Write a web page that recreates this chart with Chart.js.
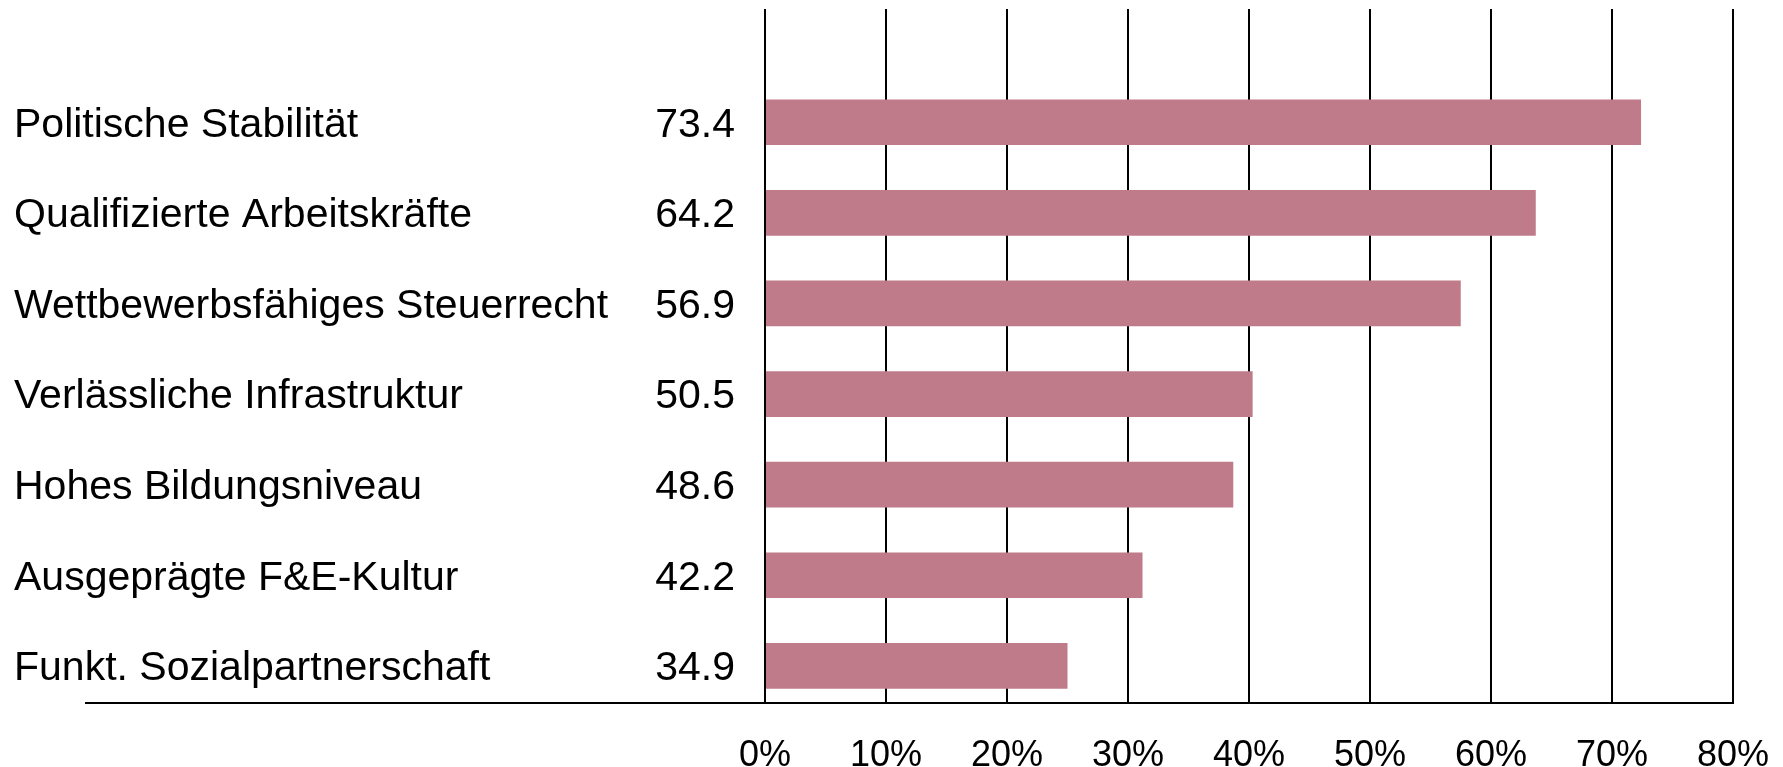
<!DOCTYPE html>
<html>
<head>
<meta charset="utf-8">
<script src="https://cdn.jsdelivr.net/npm/chart.js@4.4.0/dist/chart.umd.min.js"></script>
<style>
  html, body { margin: 0; background: #fff; overflow: hidden; }
  #wrap { width: 1783px; height: 767px; }
</style>
</head>
<body>
<div id="wrap"><canvas id="myChart"></canvas></div>
<script>
const categories = [
  'Politische Stabilität',
  'Qualifizierte Arbeitskräfte',
  'Wettbewerbsfähiges Steuerrecht',
  'Verlässliche Infrastruktur',
  'Hohes Bildungsniveau',
  'Ausgeprägte F&E-Kultur',
  'Funkt. Sozialpartnerschaft'
];
const valueLabels = ['73.4', '64.2', '56.9', '50.5', '48.6', '42.2', '34.9'];
const barValues = [72.4, 63.7, 57.5, 40.3, 38.7, 31.2, 25.0];
const xTicks = [0, 10, 20, 30, 40, 50, 60, 70, 80];

const labelFont = { family: 'Liberation Sans, Arial, sans-serif', size: 41 };
const tickFont = { family: 'Liberation Sans, Arial, sans-serif', size: 36 };

// one tick per row so the label columns line up with the bars
function rowTicks(scale) {
  scale.ticks = categories.map((c, i) => ({ value: i }));
}

// fixed axis sizes, and no extra room for overhanging labels
function fitY(width) {
  return s => {
    s.width = width;
    s.paddingTop = 0;
    s.paddingBottom = 0;
  };
}

// the bottom line runs on under the label columns
const baseline = {
  id: 'baseline',
  afterDraw(chart) {
    const ctx = chart.ctx;
    const area = chart.chartArea;
    ctx.save();
    ctx.strokeStyle = '#000';
    ctx.lineWidth = 2;
    ctx.beginPath();
    ctx.moveTo(85, area.bottom);
    ctx.lineTo(area.right + 1, area.bottom);
    ctx.stroke();
    ctx.restore();
  }
};

const ctx = document.getElementById('myChart');
new Chart(ctx, {
  type: 'bar',
  data: {
    datasets: [{
      data: barValues.map((v, i) => ({ x: v, y: i })),
      backgroundColor: '#bf7b8a',
      borderWidth: 0,
      barPercentage: 0.56,
      categoryPercentage: 0.9,
      xAxisID: 'x',
      yAxisID: 'y'
    }]
  },
  options: {
    indexAxis: 'y',
    responsive: true,
    maintainAspectRatio: false,
    animation: false,
    layout: { padding: { left: 14, top: 9, right: 50, bottom: 0 } },
    plugins: {
      legend: { display: false },
      tooltip: { enabled: false }
    },
    scales: {
      x: {
        type: 'linear',
        position: 'bottom',
        min: 0,
        max: 80,
        afterBuildTicks: s => { s.ticks = xTicks.map(v => ({ value: v })); },
        grid: { color: '#000', lineWidth: 2, drawTicks: false },
        border: { display: false },
        ticks: {
          color: '#000',
          font: tickFont,
          padding: 31,
          autoSkip: false,
          maxRotation: 0,
          callback: v => v + '%'
        },
        afterFit: s => {
          s.height = 64;
          s.paddingLeft = 0;
          s.paddingRight = 0;
        }
      },
      y: {
        type: 'linear',
        position: 'left',
        reverse: true,
        offset: false,
        min: -1.25,
        max: 6.41,
        weight: 1,
        afterBuildTicks: rowTicks,
        grid: { display: false, drawTicks: false, offset: false },
        border: { display: false },
        ticks: {
          color: '#000',
          font: labelFont,
          crossAlign: 'far',
          padding: 0,
          labelOffset: 3,
          autoSkip: false,
          callback: v => categories[v]
        },
        afterFit: fitY(616)
      },
      y2: {
        type: 'linear',
        position: 'left',
        reverse: true,
        offset: false,
        min: -1.25,
        max: 6.41,
        weight: 0,
        afterBuildTicks: rowTicks,
        grid: { display: false, drawTicks: false, offset: false },
        border: { display: false },
        ticks: {
          color: '#000',
          font: labelFont,
          crossAlign: 'near',
          padding: 30,
          labelOffset: 3,
          autoSkip: false,
          callback: v => valueLabels[v]
        },
        afterFit: fitY(135)
      }
    }
  },
  plugins: [baseline]
});
</script>
</body>
</html>
